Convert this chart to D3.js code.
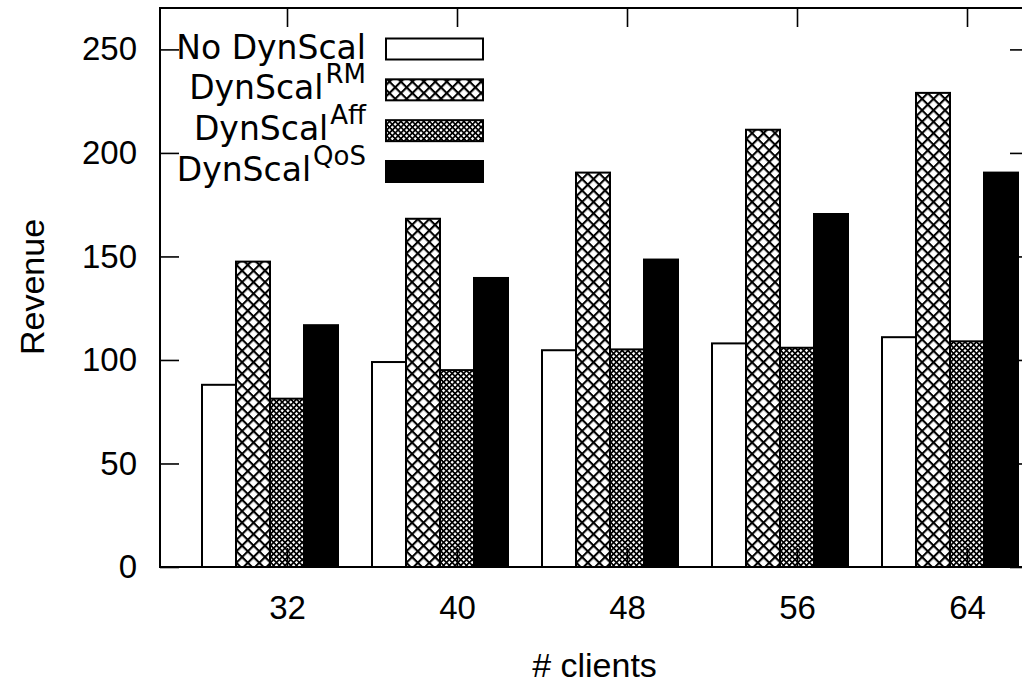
<!DOCTYPE html>
<html>
<head>
<meta charset="utf-8">
<script src="https://cdn.jsdelivr.net/npm/d3@7"></script>
<style>
  body { margin: 0; background: #fff; }
  svg { display: block; }
  .axisLabel { font-family: "Liberation Sans", Arial, sans-serif; font-size: 34px; }
  .legendText { font-family: "DejaVu Sans", sans-serif; font-size: 33px; }
</style>
</head>
<body>
<div id="chart"></div>
<script>
// data
var clients = ["32", "40", "48", "56", "64"];
var seriesNames = ["No DynScal", "DynScal^RM", "DynScal^Aff", "DynScal^QoS"];
var noDynScal = [88, 99, 104.7, 108, 111];
var dynScalRM = [147.5, 168.2, 190.5, 211.2, 229];
var dynScalAff = [81.3, 95.1, 105.1, 105.9, 109];
var dynScalQoS = [116.8, 139.6, 148.5, 170.5, 190.5];
var yTicks = [0, 50, 100, 150, 200, 250];

var width = 1022;
var height = 688;
var plotLeft = 160, plotRight = 1029, plotTop = 8, plotBottom = 567;
var tickLen = 19;

var svg = d3.select("#chart")
    .append("svg")
    .attr("width", width)
    .attr("height", height);

// hatch patterns
var defs = svg.append("defs");
function hatch(id, size, lw) {
    var p = defs.append("pattern")
        .attr("id", id)
        .attr("patternUnits", "userSpaceOnUse")
        .attr("width", size)
        .attr("height", size)
        .attr("patternTransform", "rotate(45)");
    p.append("rect").attr("x", 0).attr("y", 0).attr("width", size).attr("height", lw).attr("fill", "#000");
    p.append("rect").attr("x", 0).attr("y", 0).attr("width", lw).attr("height", size).attr("fill", "#000");
}
hatch("hatchRM", 8.1, 2.1);
hatch("hatchAff", 4.05, 1.7);

var fills = ["#fff", "url(#hatchRM)", "url(#hatchAff)", "#000"];

var table = clients.map(function (c, i) {
    return { client: c, values: [noDynScal[i], dynScalRM[i], dynScalAff[i], dynScalQoS[i]] };
});

// scales
var yScale = d3.scaleLinear()
    .domain([0, 270])
    .range([plotBottom, plotTop]);

var xBand = d3.scaleBand()
    .domain(clients)
    .range([185, 1035])
    .paddingInner(0.2)
    .paddingOuter(0.1);

var xSeries = d3.scaleBand()
    .domain(d3.range(seriesNames.length))
    .range([0, xBand.bandwidth()]);

// tick positions sit half a step after each cluster start
var xTick = d3.scalePoint()
    .domain(clients)
    .range([xBand(clients[0]) + xBand.step() / 2, xBand(clients[clients.length - 1]) + xBand.step() / 2]);

// axes (drawn before bars, bars cover the inner ticks)
var yAxis = d3.axisLeft(yScale).tickValues(yTicks).tickSize(-tickLen).tickPadding(23);
var yAxisR = d3.axisRight(yScale).tickValues(yTicks).tickSize(-tickLen).tickFormat("");
var xAxis = d3.axisBottom(xTick).tickSize(-tickLen).tickPadding(29);
var xAxisT = d3.axisTop(xTick).tickSize(-tickLen).tickFormat("");

function styleAxis(g) {
    g.attr("font-family", "Liberation Sans, Arial, sans-serif").attr("font-size", 33);
    g.select(".domain").remove();
    g.selectAll(".tick line").attr("stroke", "#000").attr("stroke-width", 1.6);
    g.selectAll(".tick text").attr("fill", "#000");
}

svg.append("g").attr("transform", `translate(${plotLeft},0)`).call(yAxis).call(styleAxis);
svg.append("g").attr("transform", `translate(${plotRight},0)`).call(yAxisR).call(styleAxis);
svg.append("g").attr("transform", `translate(0,${plotBottom})`).call(xAxis).call(styleAxis);
svg.append("g").attr("transform", `translate(0,${plotTop})`).call(xAxisT).call(styleAxis);

// bars
var groups = svg.selectAll("g.cluster")
    .data(table)
    .enter()
    .append("g")
    .attr("class", "cluster")
    .attr("transform", function (d) { return `translate(${xBand(d.client)},0)`; });

groups.selectAll("rect")
    .data(function (d) { return d.values; })
    .enter()
    .append("rect")
    .attr("x", function (d, i) { return xSeries(i); })
    .attr("y", function (d) { return yScale(d); })
    .attr("width", xSeries.bandwidth())
    .attr("height", function (d) { return yScale(0) - yScale(d); })
    .attr("fill", function (d, i) { return fills[i]; })
    .attr("stroke", "#000")
    .attr("stroke-width", 2);

// frame
svg.append("path")
    .attr("d", `M${plotRight},${plotTop}H${plotLeft}V${plotBottom}H${plotRight}`)
    .attr("fill", "none")
    .attr("stroke", "#000")
    .attr("stroke-width", 2);

// axis titles
svg.append("text")
    .attr("class", "axisLabel")
    .attr("x", (plotLeft + plotRight) / 2)
    .attr("y", 677)
    .attr("text-anchor", "middle")
    .text("# clients");

svg.append("text")
    .attr("class", "axisLabel")
    .attr("transform", "translate(44,287) rotate(-90)")
    .attr("text-anchor", "middle")
    .text("Revenue");

// legend
var legendY = d3.scalePoint()
    .domain(seriesNames)
    .range([49, 171.5]);

var legend = svg.selectAll("g.legend")
    .data(seriesNames)
    .enter()
    .append("g")
    .attr("class", "legend");

legend.append("rect")
    .attr("x", 386)
    .attr("y", function (d) { return legendY(d) - 10.5; })
    .attr("width", 97)
    .attr("height", 21)
    .attr("fill", function (d, i) { return fills[i]; })
    .attr("stroke", "#000")
    .attr("stroke-width", 2);

var legendText = legend.append("text")
    .attr("class", "legendText")
    .attr("x", 366)
    .attr("y", function (d) { return legendY(d) + 9.5; })
    .attr("text-anchor", "end");

legendText.each(function (d) {
    var parts = d.split("^");
    var t = d3.select(this);
    t.append("tspan").text(parts[0]);
    if (parts[1]) {
        t.append("tspan")
            .attr("dx", 2)
            .attr("dy", -16)
            .attr("font-size", 26)
            .text(parts[1]);
    }
});
</script>
</body>
</html>
